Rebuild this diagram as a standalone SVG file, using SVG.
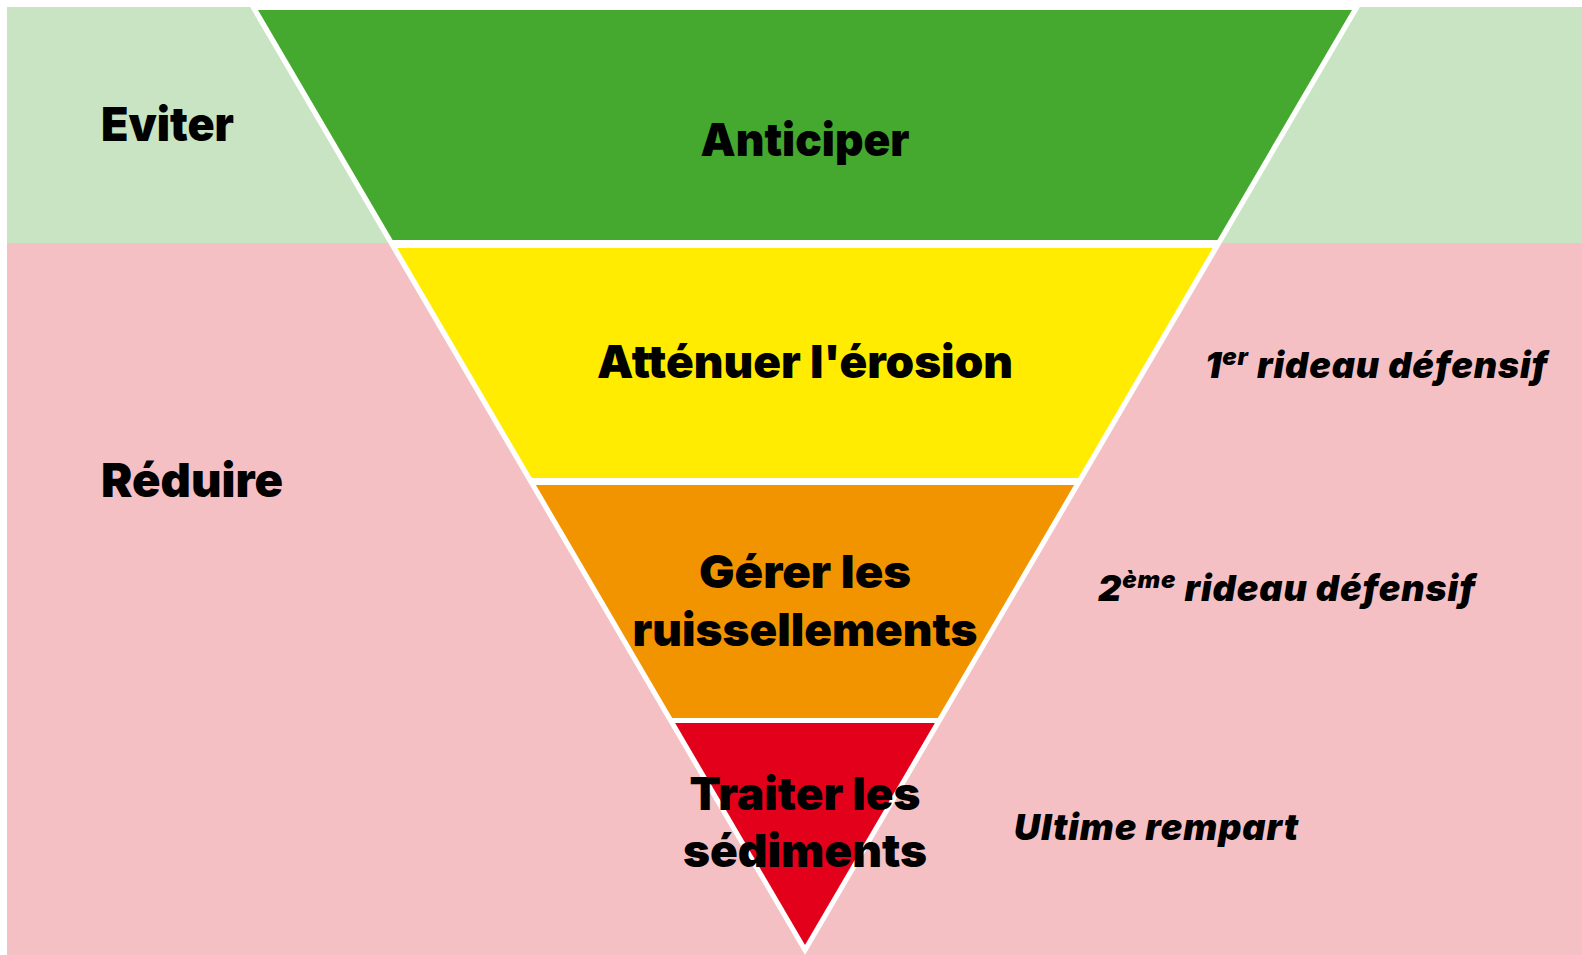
<svg xmlns="http://www.w3.org/2000/svg" width="1582" height="955" viewBox="0 0 1582 955">
<style>
.lbl{font-family:Inter,Roboto,"Liberation Sans",Arial,sans-serif;font-weight:900;fill:#000;}
.main{font-size:46px;text-anchor:middle;}
.side{font-size:47px;}
.note{font-size:36px;font-style:italic;letter-spacing:0.9px;}
</style>
<rect x="0" y="0" width="1582" height="955" fill="#ffffff"/>
<g id="zone-eviter">
<rect x="7" y="7" width="1575" height="236" fill="#c8e4c2"/>
<text class="lbl side" x="101" y="141" textLength="133" lengthAdjust="spacingAndGlyphs">Eviter</text>
</g>
<g id="zone-reduire">
<rect x="7" y="243" width="1575" height="712" fill="#f4c0c4"/>
<text class="lbl side" x="101" y="497" textLength="182" lengthAdjust="spacingAndGlyphs">Réduire</text>
</g>
<g id="outline">
<polygon points="246,0 1364,0 805,955" fill="#ffffff"/>
</g>
<g id="band-anticiper">
<polygon points="258,10 1352,10 1217.4,240 392.6,240" fill="#45a82f"/>
<text class="lbl main" x="805" y="156" textLength="209" lengthAdjust="spacingAndGlyphs">Anticiper</text>
</g>
<g id="band-attenuer">
<polygon points="397.3,248 1212.7,248 1078.2,478 531.8,478" fill="#ffec00"/>
<text class="lbl main" x="805" y="378" textLength="416" lengthAdjust="spacingAndGlyphs">Atténuer l'érosion</text>
</g>
<g id="band-gerer">
<polygon points="535.9,485 1074.1,485 937.8,718 672.2,718" fill="#f29400"/>
<text class="lbl main" x="805" y="588" textLength="212" lengthAdjust="spacingAndGlyphs">Gérer les</text>
<text class="lbl main" x="805" y="646" textLength="345" lengthAdjust="spacingAndGlyphs">ruissellements</text>
</g>
<g id="band-traiter">
<polygon points="675.1,723 934.9,723 805,945" fill="#e2001a"/>
<text class="lbl main" x="805" y="810" textLength="231" lengthAdjust="spacingAndGlyphs">Traiter les</text>
<text class="lbl main" x="805" y="867" textLength="244" lengthAdjust="spacingAndGlyphs">sédiments</text>
</g>
<g id="note-1">
<text class="lbl note" x="1205" y="378">1<tspan font-size="24" dy="-13">er</tspan><tspan dy="13"> rideau défensif</tspan></text>
</g>
<g id="note-2">
<text class="lbl note" x="1098" y="601">2<tspan font-size="24" dy="-13">ème</tspan><tspan dy="13"> rideau défensif</tspan></text>
</g>
<g id="note-3">
<text class="lbl note" x="1014" y="840">Ultime rempart</text>
</g>
<g id="connectors"/>
</svg>
